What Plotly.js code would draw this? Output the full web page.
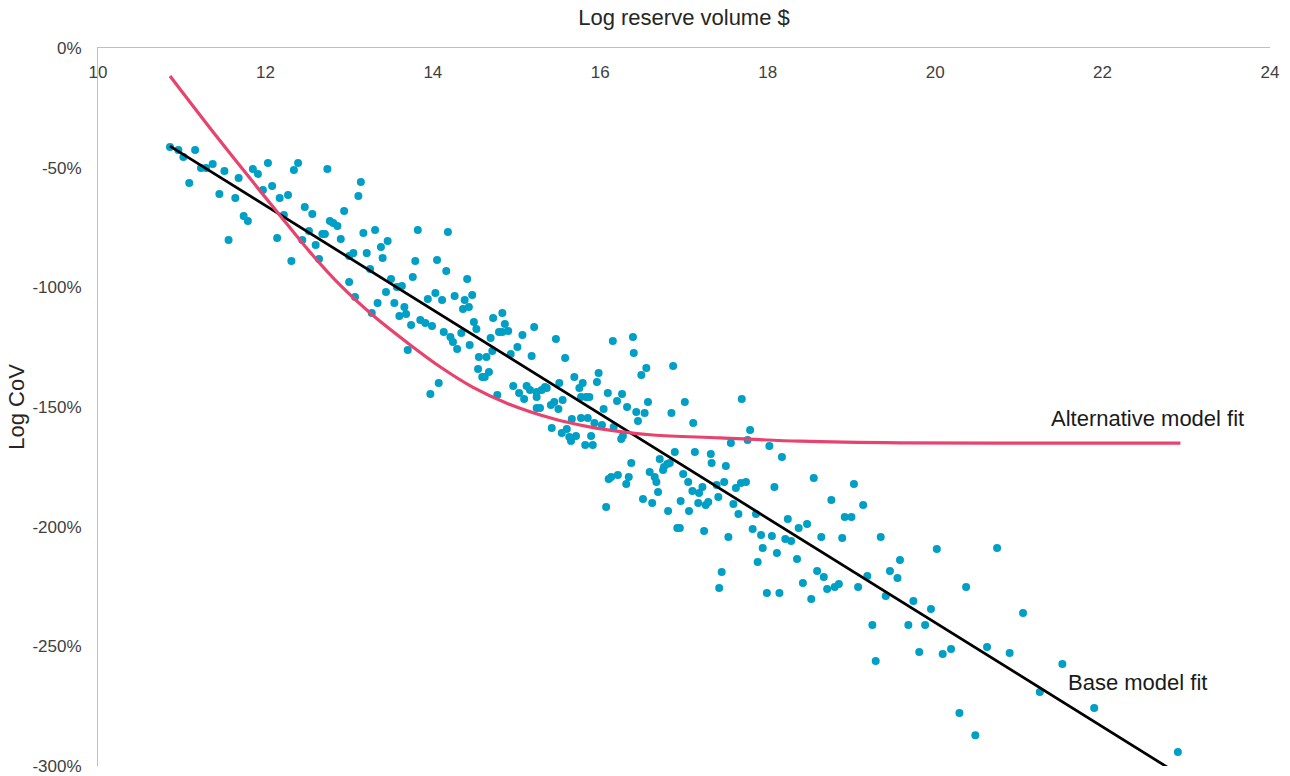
<!DOCTYPE html>
<html>
<head>
<meta charset="utf-8">
<script src="https://cdn.plot.ly/plotly-3.0.1.min.js"></script>
<style>html,body{margin:0;padding:0;background:#fff;}#chart{width:1290px;height:776px;}</style>
</head>
<body>
<div id="chart"></div>
<script>
// Observed data: log reserve volume vs log CoV (%)
var logVolume = [
10.86,10.96,11.02,11.16,11.09,11.23,11.29,11.37,11.51,11.45,
11.56,11.64,11.68,11.74,11.79,11.85,11.91,12.03,11.97,12.08,
12.17,12.22,12.27,12.14,12.31,12.34,12.39,12.47,12.56,12.74,
12.44,12.52,12.60,12.64,12.68,12.71,12.77,12.81,12.86,12.90,
12.94,13.00,13.00,
13.14,13.11,13.17,13.31,13.46,13.38,13.40,13.21,13.05,13.25,
13.07,13.27,13.34,13.44,13.50,13.54,13.57,13.63,13.66,13.60,
13.68,13.74,13.70,13.76,13.79,13.82,13.85,13.91,13.94,13.99,
14.03,14.05,14.11,14.16,14.18,14.13,14.21,14.24,14.29,14.26,
14.34,14.38,14.36,14.43,14.41,14.47,14.49,14.52,14.44,14.55,
14.64,14.54,14.59,14.62,14.67,14.69,14.72,14.71,14.79,14.83,
14.86,14.90,14.83,14.07,13.97,14.77,14.93,15.01,15.07,15.21,
15.18,14.96,15.03,15.09,15.12,15.16,15.24,15.24,
15.47,15.58,15.30,15.34,15.36,15.24,15.28,15.41,15.45,15.50,
15.51,15.55,15.69,15.79,15.75,15.77,15.83,15.87,15.66,15.77,
15.85,15.42,15.54,15.60,15.63,15.65,15.71,15.82,15.89,15.91,
15.96,15.98,16.04,15.93,16.02,16.09,16.15,16.20,16.26,16.16,
16.32,16.25,16.27,16.39,16.40,16.49,16.55,16.43,16.53,16.45,
16.57,16.87,16.85,17.01,17.11,16.37,16.13,16.10,16.21,16.34,
16.31,16.07,16.59,16.65,16.67,16.71,16.69,16.75,16.76,16.80,
16.83,16.89,16.51,16.62,16.81,16.92,16.95,16.99,17.05,17.10,
17.13,17.22,17.18,16.96,17.06,17.17,17.26,17.29,17.24,17.32,
17.33,17.39,17.41,
17.69,17.79,17.76,17.56,18.02,18.17,17.50,17.48,17.62,17.68,
17.74,17.59,17.65,17.86,18.08,18.55,19.03,18.76,19.14,18.92,
19.00,17.53,17.82,17.92,18.05,18.24,18.37,18.47,18.21,18.28,
17.94,18.11,18.64,18.89,19.35,17.88,18.35,17.45,17.42,17.99,
18.14,18.59,18.67,18.42,18.52,18.71,18.80,18.85,19.08,19.19,
19.41,19.46,19.55,19.58,20.02,20.74,19.74,19.95,19.68,19.88,
20.37,21.05,19.81,20.09,20.19,20.62,20.89,21.52,21.25,20.29,
21.90,22.90,19.25,19.29,20.48
];
var logCoV = [
-41.4,-42.6,-45.5,-42.6,-56.4,-50.1,-50.1,-48.5,-51.4,-61.0,
-80.2,-62.7,-54.3,-70.2,-72.3,-50.6,-52.6,-48.1,-59.3,-57.7,
-62.7,-69.8,-61.4,-79.4,-89.0,-51.0,-48.1,-66.4,-69.4,-50.6,
-80.2,-76.5,-82.3,-88.2,-77.7,-77.7,-72.3,-73.1,-74.4,-79.8,
-68.1,-97.8,-86.9,
-56.0,-61.8,-77.3,-76.0,-80.6,-83.1,-87.7,-85.7,-85.7,-92.3,
-104.0,-110.7,-106.5,-102.0,-96.5,-106.5,-99.9,-99.4,-108.2,-112.0,
-111.1,-115.7,-126.2,-95.7,-89.0,-76.0,-113.7,-114.9,-104.9,-116.2,
-102.4,-88.6,-105.3,-93.2,-76.9,-118.7,-120.8,-122.8,-125.8,-103.6,
-119.1,-105.3,-109.1,-108.2,-96.5,-103.2,-114.5,-117.4,-124.1,-129.1,
-129.1,-134.1,-137.5,-137.5,-135.4,-121.2,-112.8,-126.6,-118.7,-110.7,
-115.3,-118.2,-118.7,-140.0,-144.6,-145.0,-127.9,-124.9,-119.9,-116.6,
-128.7,-141.2,-144.2,-146.7,-141.2,-142.9,-143.7,-150.4,
-121.6,-129.5,-142.9,-141.6,-142.1,-145.8,-150.4,-149.2,-147.9,-150.8,
-140.0,-147.1,-137.5,-140.0,-142.1,-145.8,-145.8,-145.8,-155.0,-154.6,
-154.6,-158.8,-160.9,-159.2,-162.5,-164.2,-162.1,-165.9,-162.1,-165.9,
-139.6,-135.8,-150.8,-156.7,-157.5,-144.2,-122.4,-147.5,-144.6,-158.4,
-150.0,-163.4,-162.1,-120.8,-127.4,-136.6,-133.7,-152.1,-152.5,-155.9,
-147.9,-132.9,-152.5,-147.9,-156.7,-173.4,-179.2,-180.1,-178.4,-179.2,
-182.2,-191.8,-177.2,-179.2,-181.3,-171.7,-185.5,-176.3,-175.1,-173.8,
-173.4,-168.8,-188.4,-190.1,-193.5,-200.6,-200.6,-178.0,-181.3,-185.1,
-168.8,-183.4,-185.9,-189.3,-193.5,-190.1,-190.9,-189.7,-201.8,-169.6,
-173.4,-182.6,-187.6,
-146.7,-159.6,-163.8,-165.0,-166.3,-170.9,-174.7,-181.3,-183.8,-181.8,
-181.3,-190.5,-194.7,-194.7,-183.4,-179.7,-182.2,-188.9,-190.9,-196.0,
-196.0,-204.3,-201.0,-203.5,-203.9,-196.8,-200.6,-198.9,-205.2,-206.0,
-208.9,-211.0,-204.3,-204.7,-204.3,-214.8,-213.5,-218.9,-225.6,-227.7,
-227.7,-218.5,-221.0,-223.5,-230.2,-226.0,-225.2,-224.0,-225.2,-220.6,
-229.0,-218.5,-221.5,-213.9,-209.3,-208.9,-231.1,-234.4,-241.1,-241.1,
-225.2,-236.1,-252.4,-253.2,-251.1,-250.3,-252.8,-257.4,-269.1,-277.9,
-275.8,-294.2,-241.1,-256.1,-287.1
];

// Base model fit (straight line)
var baseFitX = [10.86, 22.93];
var baseFitY = [-41.0, -303.9];

// Alternative model fit (curve)
var altFitX = [10.86, 11.46, 12.14, 12.53, 12.89, 13.29, 13.69, 14.09, 14.48, 14.89,
               15.44, 15.84, 16.24, 16.63, 17.43, 18.39, 19.58, 21.25, 22.93];
var altFitY = [-11.7, -38.9, -68.5, -85.2, -99.0, -111.9, -123.0, -133.3, -141.8, -148.5,
               -154.9, -158.1, -160.3, -161.7, -162.9, -164.3, -165.0, -165.1, -165.1];

// Axis ticks
var xTickVals = [10, 12, 14, 16, 18, 20, 22, 24];
var yTickVals = [0, -50, -100, -150, -200, -250, -300];
var yTickText = ['0%', '-50%', '-100%', '-150%', '-200%', '-250%', '-300%'];

// Line labels
var labelTexts = ['Alternative model fit', 'Base model fit'];
var labelX = [22.54, 22.42];
var labelY = [-155.0, -265.3];

var FONT = '"Liberation Sans", Arial, Helvetica, sans-serif';

var traces = [
  {
    type: 'scatter', mode: 'markers', x: logVolume, y: logCoV,
    marker: {color: '#009fc6', size: 8, line: {width: 0}},
    hoverinfo: 'x+y', name: 'Observations'
  },
  {
    type: 'scatter', mode: 'lines', x: baseFitX, y: baseFitY,
    line: {color: '#000000', width: 2.75}, name: 'Base model fit'
  },
  {
    type: 'scatter', mode: 'lines', x: altFitX, y: altFitY,
    line: {color: '#e8436e', width: 3.2, shape: 'spline', smoothing: 1}, name: 'Alternative model fit'
  }
];

var annotations = labelTexts.map(function (t, i) {
  return {
    x: labelX[i], y: labelY[i], xref: 'x', yref: 'y', text: t, showarrow: false,
    xanchor: 'center', yanchor: 'middle',
    font: {family: FONT, size: 22, color: '#1a1a1a'}
  };
});

var layout = {
  width: 1290, height: 776,
  margin: {l: 98, r: 20, t: 48, b: 10, pad: 0},
  paper_bgcolor: '#ffffff', plot_bgcolor: '#ffffff',
  showlegend: false,
  font: {family: FONT, size: 17, color: '#404040'},
  xaxis: {
    range: [10, 24], side: 'top', tickvals: xTickVals,
    showgrid: false, zeroline: false, showline: true, linecolor: '#bfbfbf', linewidth: 1,
    ticks: '', ticklabelposition: 'inside', ticklabeloverflow: 'allow', ticklabelstandoff: 19,
    tickfont: {family: FONT, size: 17, color: '#404040'},
    automargin: false,
    title: {text: 'Log reserve volume $', font: {family: FONT, size: 22, color: '#262626'}, standoff: 31}
  },
  yaxis: {
    range: [-300, 0], tickvals: yTickVals, ticktext: yTickText,
    showgrid: false, zeroline: false, showline: true, linecolor: '#bfbfbf', linewidth: 1,
    ticks: '', ticklabelstandoff: 12,
    tickfont: {family: FONT, size: 17, color: '#404040'},
    automargin: false,
    title: {text: 'Log CoV', font: {family: FONT, size: 22, color: '#262626'}, standoff: 1}
  },
  annotations: annotations
};

Plotly.newPlot('chart', traces, layout, {displayModeBar: false, staticPlot: true});
</script>
</body>
</html>
